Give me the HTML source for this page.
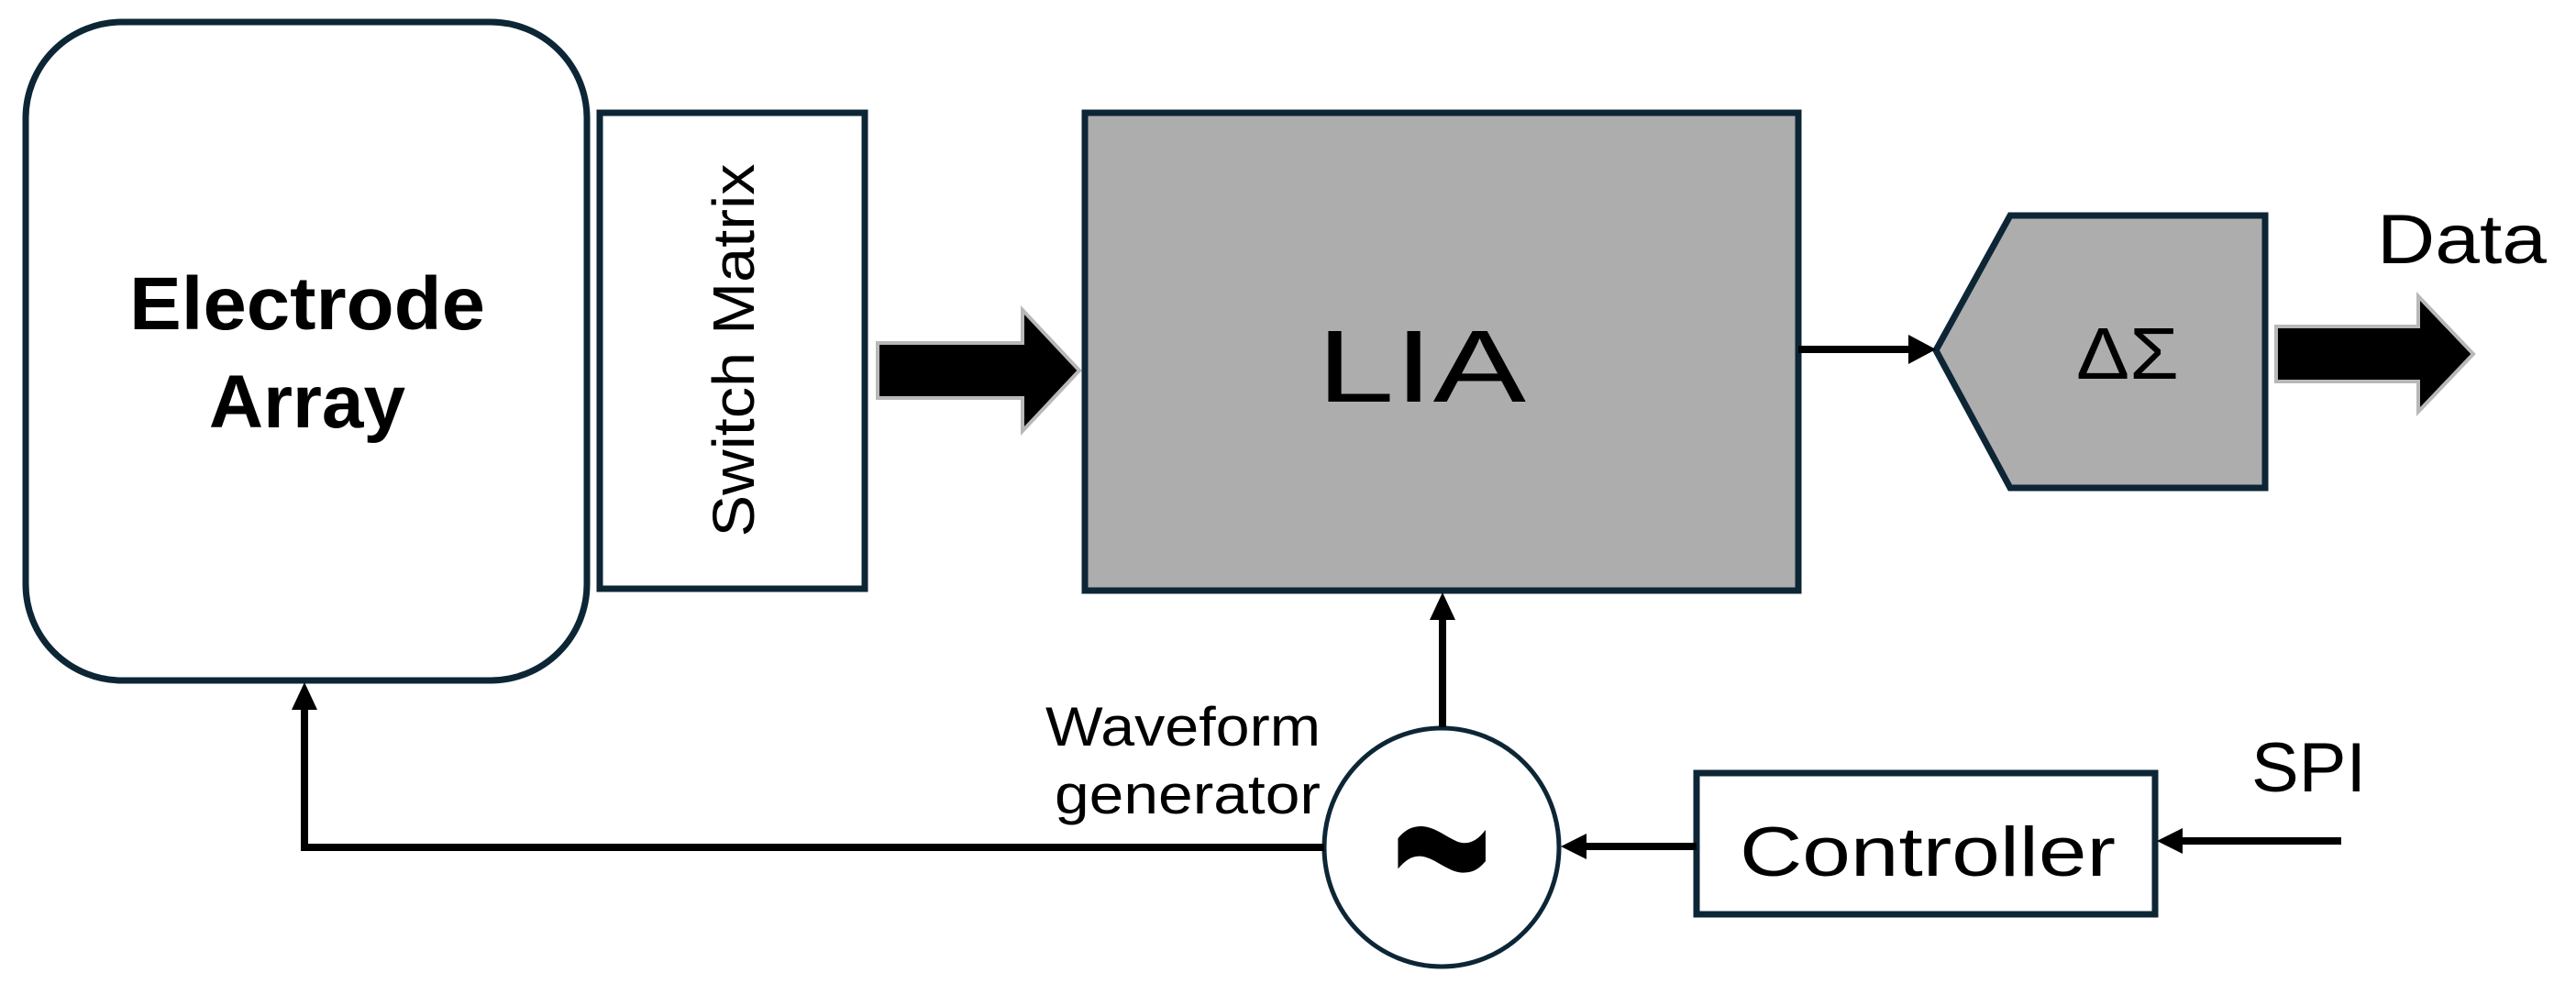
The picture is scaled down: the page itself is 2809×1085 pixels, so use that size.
<!DOCTYPE html>
<html><head><meta charset="utf-8"><style>
html,body{margin:0;padding:0;background:#fff;}
svg{display:block;}
</style></head><body>
<svg width="2809" height="1085" viewBox="0 0 2809 1085" xmlns="http://www.w3.org/2000/svg">
<g fill="none" stroke="#0d2636" stroke-width="7">
  <rect x="28" y="24" width="612" height="718" rx="105" ry="105" fill="#fff"/>
  <rect x="654" y="123" width="289" height="519" fill="#fff"/>
  <rect x="1183" y="123" width="778" height="521" fill="#adadad"/>
  <polygon points="2111,382 2192,235 2470,235 2470,532 2192,532" fill="#adadad"/>
  <rect x="1850" y="843" width="500" height="154" fill="#fff"/>
</g>
<ellipse cx="1572" cy="924" rx="128" ry="130" fill="#fff" stroke="#0d2636" stroke-width="5"/>

<polygon points="957,374 1115,374 1115,338 1177,404 1115,470 1115,434 957,434" fill="#000" stroke="#b8b8b8" stroke-width="4"/>
<polygon points="2482,356 2637,356 2637,323 2697,386 2637,449 2637,416 2482,416" fill="#000" stroke="#b8b8b8" stroke-width="4"/>

<g stroke="#000" stroke-width="8" fill="none">
  <line x1="1961" y1="381" x2="2085" y2="381"/>
  <line x1="1573" y1="793" x2="1573" y2="672"/>
  <polyline points="1444,924 332,924 332,770"/>
  <line x1="1850" y1="923" x2="1727" y2="923"/>
  <line x1="2553" y1="917" x2="2378" y2="917"/>
</g>
<g fill="#000">
  <polygon points="2111,381 2081,365 2081,397"/>
  <polygon points="1573,646 1559,676 1587,676"/>
  <polygon points="332,744 318,774 346,774"/>
  <polygon points="1702,923 1730,909 1730,937"/>
  <polygon points="2352,917 2380,903 2380,931"/>
</g>

<g font-family="Liberation Sans, sans-serif" fill="#000">
  <text x="335" y="359" font-size="82" font-weight="bold" text-anchor="middle" textLength="388" lengthAdjust="spacingAndGlyphs">Electrode</text>
  <text x="335" y="466" font-size="82" font-weight="bold" text-anchor="middle">Array</text>
  <text transform="translate(822,382) rotate(-90)" font-size="64" text-anchor="middle" textLength="407" lengthAdjust="spacingAndGlyphs">Switch Matrix</text>
  <text x="1550" y="438" font-size="112" text-anchor="middle" textLength="228" lengthAdjust="spacingAndGlyphs">LIA</text>
  <text x="2320" y="413" font-size="80" text-anchor="middle" textLength="112" lengthAdjust="spacingAndGlyphs">ΔΣ</text>
  <text x="2592" y="287" font-size="76" textLength="185" lengthAdjust="spacingAndGlyphs">Data</text>
  <text x="1440" y="813" font-size="60" text-anchor="end" textLength="300" lengthAdjust="spacingAndGlyphs">Waveform</text>
  <text x="1440" y="887" font-size="60" text-anchor="end" textLength="290" lengthAdjust="spacingAndGlyphs">generator</text>
  <text x="2455" y="863" font-size="76" textLength="125" lengthAdjust="spacingAndGlyphs">SPI</text>
  <text x="2102" y="955" font-size="76" text-anchor="middle" textLength="410" lengthAdjust="spacingAndGlyphs">Controller</text>
  <g transform="translate(1572,973) scale(1,1.6)">
    <text x="0" y="37" font-size="200" font-weight="bold" text-anchor="middle" textLength="110" lengthAdjust="spacingAndGlyphs">~</text>
  </g>
</g>
</svg>
</body></html>
